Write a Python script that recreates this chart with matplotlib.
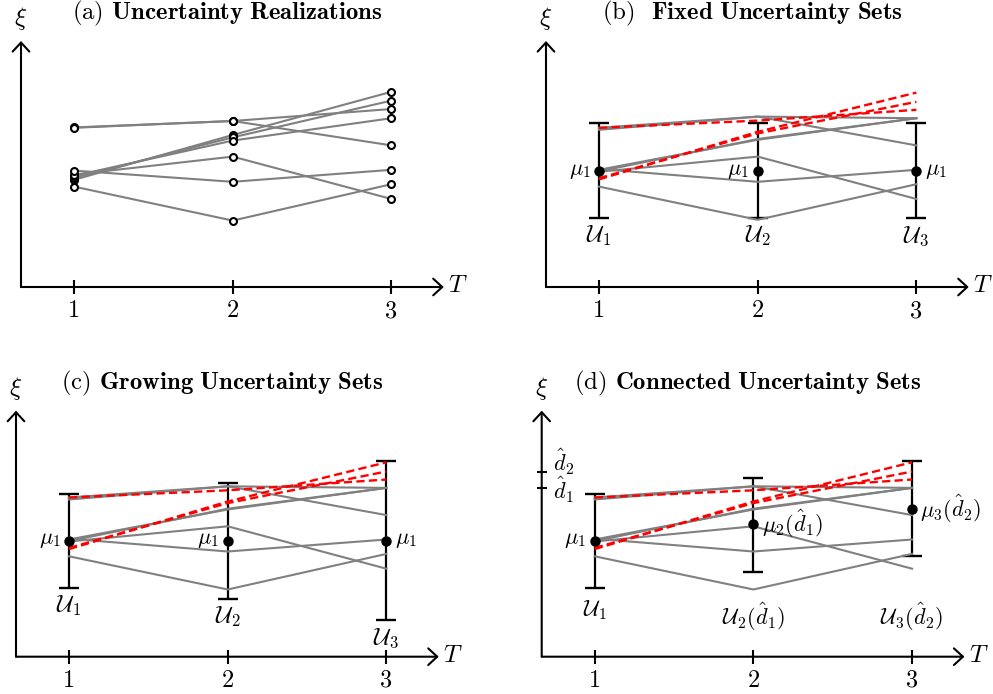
import matplotlib
matplotlib.use("Agg")
import matplotlib.pyplot as plt

plt.rcParams['mathtext.fontset'] = 'cm'
plt.rcParams['font.family'] = 'serif'
plt.rcParams['font.serif'] = ['cmr10']
plt.rcParams['axes.unicode_minus'] = False

W, H = 993, 694
PX_T = 158.7   # pixels per stage
PX_V = 40.0    # pixels per unit of xi

stages = [1, 2, 3]
tick_labels = ['1', '2', '3']

# (a) realizations of the uncertain parameter
realizations = [
    [3.99, 4.15, 4.45],
    [3.98, 4.15, 3.54],
    [2.68, 3.80, 4.88],
    [2.73, 3.74, 4.66],
    [2.78, 3.66, 4.22],
    [2.81, 3.26, 2.20],
    [2.91, 2.63, 2.93],
    [2.51, 1.66, 2.57],
]

# (b)-(d) paths: gray ones and the red dashed ones
gray_paths = [
    [3.98, 4.26, 4.22],
    [3.93, 4.26, 3.54],
    [2.93, 3.68, 4.22],
    [2.89, 3.70, 4.22],
    [2.88, 3.26, 2.20],
    [2.95, 2.63, 2.93],
    [2.51, 1.68, 2.57],
]
red_paths = [
    [3.98, 4.16, 4.43],
    [2.69, 3.88, 4.86],
    [2.72, 3.84, 4.63],
]

# uncertainty sets
fixed_lo = [1.72, 1.72, 1.72]
fixed_hi = [4.09, 4.09, 4.09]
fixed_mu = [2.90, 2.90, 2.90]

grow_lo = [1.71, 1.45, 0.92]
grow_hi = [4.08, 4.35, 4.89]
grow_mu = [2.90, 2.90, 2.90]

conn_lo = [1.71, 2.12, 2.52]
conn_hi = [4.08, 4.48, 4.89]
conn_mu = [2.90, 3.31, 3.69]
d_hat = [4.23, 4.63]
d_hat_labels = [r'$\hat{d}_1$', r'$\hat{d}_2$']

mu_plain = [r'$\mu_1$', r'$\mu_1$', r'$\mu_1$']
mu_conn = [r'$\mu_1$', r'$\mu_2(\hat{d}_1)$', r'$\mu_3(\hat{d}_2)$']
set_plain = [r'$\mathcal{U}_1$', r'$\mathcal{U}_2$', r'$\mathcal{U}_3$']
set_conn = [r'$\mathcal{U}_1$', r'$\mathcal{U}_2(\hat{d}_1)$', r'$\mathcal{U}_3(\hat{d}_2)$']

titles = [r'(a) $\mathbf{Uncertainty\ Realizations}$',
          r'(b)  $\mathbf{Fixed\ Uncertainty\ Sets}$',
          r'(c) $\mathbf{Growing\ Uncertainty\ Sets}$',
          r'(d) $\mathbf{Connected\ Uncertainty\ Sets}$']

fig = plt.figure(figsize=(W / 100, H / 100), dpi=100)

X0 = 1 - 53 / PX_T
ARR = dict(arrowstyle='->,head_length=0.65,head_width=0.6', lw=1.5, color='black',
           shrinkA=0, shrinkB=0, mutation_scale=10)


def panel(left, top, right, bottom, axis_px, base_px, title):
    t1 = axis_px + 53
    ax = fig.add_axes([left / W, 1 - bottom / H, (right - left) / W, (bottom - top) / H])
    ax.set_xlim(1 + (left - t1) / PX_T, 1 + (right - t1) / PX_T)
    ax.set_ylim((base_px - bottom) / PX_V, (base_px - top) / PX_V)
    ax.axis('off')
    ax.annotate('', xy=(3.33, 0), xytext=(X0, 0), arrowprops=ARR)
    ax.annotate('', xy=(X0, 6.15), xytext=(X0, 0), arrowprops=ARR)
    ax.vlines(stages, -0.18, 0.18, color='black', lw=1.5)
    for t, lab in zip(stages, tick_labels):
        ax.text(t, -0.6, lab, ha='center', va='center', fontsize=17.5)
    ax.text(3.42, 0.02, r'$T$', ha='center', va='center', fontsize=18)
    ax.text(X0, 6.7, r'$\xi$', ha='center', va='center', fontsize=18)
    ax.text(1.965, 6.83, title, ha='center', va='center', fontsize=17.8)
    return ax


def draw_paths(ax):
    for p in gray_paths:
        ax.plot(stages, p, color='#808080', lw=1.5, zorder=2)
    for p in red_paths:
        ax.plot(stages, p, color='red', lw=1.7, ls=(0, (3.5, 1.8)), zorder=3)


def draw_sets(ax, lo, hi, mu):
    yerr = [[m - l for m, l in zip(mu, lo)], [h - m for h, m in zip(hi, mu)]]
    ax.errorbar(stages, mu, yerr=yerr, fmt='none', ecolor='black', elinewidth=1.6,
                capsize=7.5, capthick=1.7, zorder=1)
    ax.plot(stages, mu, 'o', color='black', ms=6.5, zorder=4)


def mu_label(ax, t, y, text, side):
    dx = -6 if side == 'left' else 6
    ax.annotate(text, (t, y), xytext=(dx, 0), textcoords='offset points',
                ha='right' if side == 'left' else 'left', va='center', fontsize=16)


# (a)
ax = panel(0, 0, 496, 347, 21, 287, titles[0])
for p in realizations:
    ax.plot(stages, p, color='#808080', lw=1.5, zorder=2)
    ax.plot(stages, p, 'o', mfc='white', mec='black', ms=5, mew=1.5, zorder=3)

# (b)
ax = panel(496, 0, 993, 347, 546, 287, titles[1])
draw_sets(ax, fixed_lo, fixed_hi, fixed_mu)
draw_paths(ax)
for t, m, lab, side in zip(stages, fixed_mu, mu_plain, ['left', 'left', 'right']):
    mu_label(ax, t, m, lab, side)
for t, l, lab in zip(stages, fixed_lo, set_plain):
    ax.text(t, l - 0.45, lab, ha='center', va='center', fontsize=17)

# (c)
ax = panel(0, 347, 496, 694, 16, 656.7, titles[2])
draw_sets(ax, grow_lo, grow_hi, grow_mu)
draw_paths(ax)
for t, m, lab, side in zip(stages, grow_mu, mu_plain, ['left', 'left', 'right']):
    mu_label(ax, t, m, lab, side)
for t, l, lab in zip(stages, grow_lo, set_plain):
    ax.text(t, l - 0.45, lab, ha='center', va='center', fontsize=17)

# (d)
ax = panel(496, 347, 993, 694, 541.7, 656.7, titles[3])
draw_sets(ax, conn_lo, conn_hi, conn_mu)
draw_paths(ax)
for t, m, lab, side in zip(stages, conn_mu, mu_conn, ['left', 'right', 'right']):
    mu_label(ax, t, m, lab, side)
for t, y, lab in zip(stages, [1.17, 0.99, 0.99], set_conn):
    ax.text(t, y, lab, ha='center', va='center', fontsize=16)
ax.hlines(d_hat, X0 - 0.032, X0 + 0.032, color='black', lw=1.5)
for y, dy, lab in zip(d_hat, [-2, 7], d_hat_labels):
    ax.annotate(lab, (X0, y), xytext=(8, dy), textcoords='offset points',
                ha='left', va='center', fontsize=16)

fig.savefig('out.png', dpi=100)
